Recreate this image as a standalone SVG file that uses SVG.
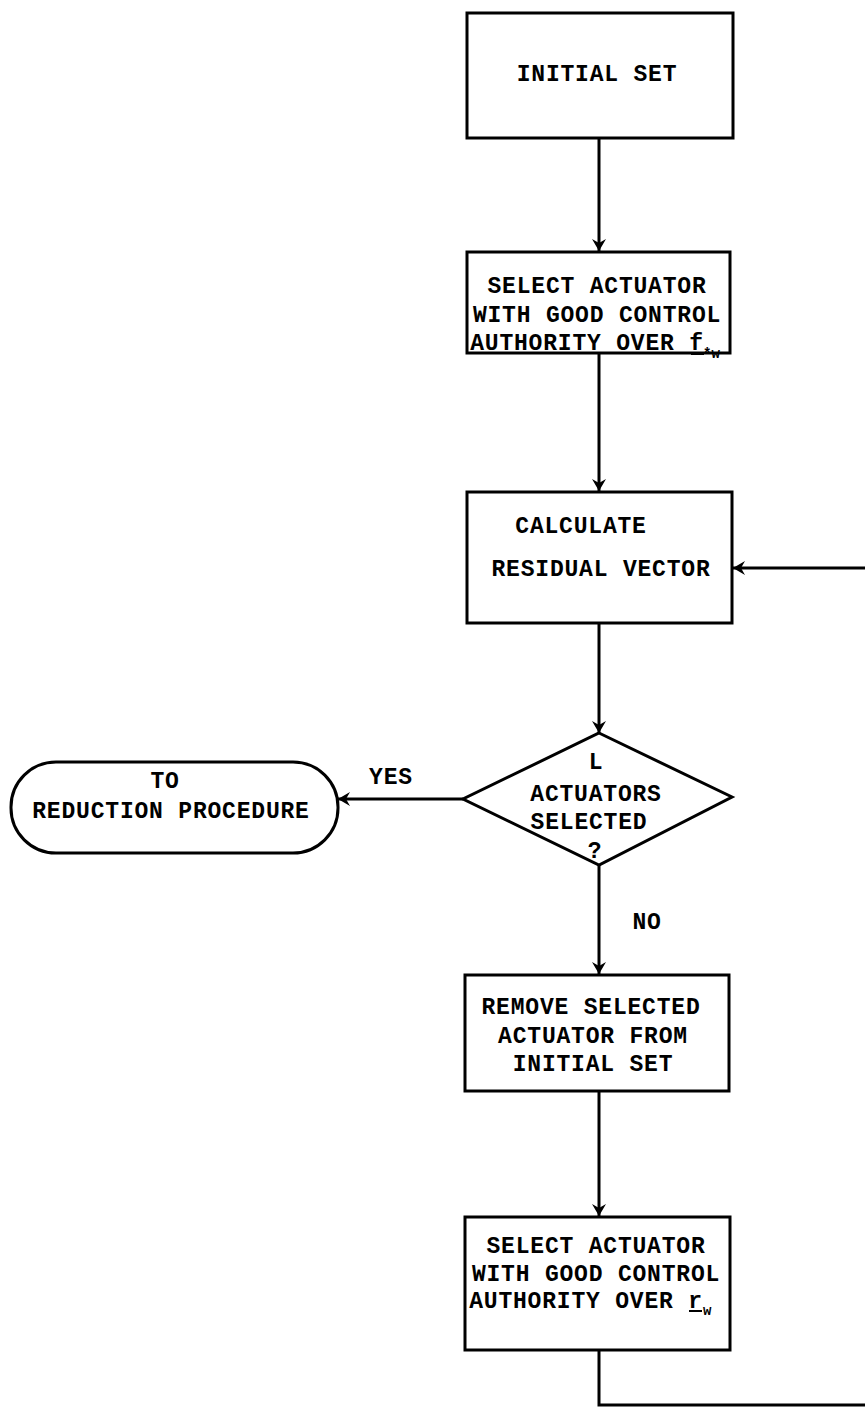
<svg xmlns="http://www.w3.org/2000/svg" width="865" height="1408" viewBox="0 0 865 1408">
<style>
.box{fill:#fff;stroke:#000;stroke-width:3}
.t{font-family:"Liberation Mono","Courier New",monospace;font-size:23px;letter-spacing:0.8px;fill:#000;text-anchor:middle;font-weight:bold}
.s{font-family:"Liberation Mono","Courier New",monospace;font-size:14px;fill:#000;font-weight:bold}
.c{fill:none;stroke:#000;stroke-width:3}
</style>
<defs>
<marker id="ah" viewBox="0 0 12 16" refX="12" refY="8" markerWidth="12" markerHeight="16" markerUnits="userSpaceOnUse" orient="auto">
<path d="M0,1 L12,8 L0,15 L4,8 Z" fill="#000"/>
</marker>
</defs>
<g id="connectors">
<path class="c" d="M599,138 V251" marker-end="url(#ah)"/>
<path class="c" d="M599,353 V491" marker-end="url(#ah)"/>
<path class="c" d="M599,623 V733" marker-end="url(#ah)"/>
<path class="c" d="M463,799 H338" marker-end="url(#ah)"/>
<path class="c" d="M599,865 V974" marker-end="url(#ah)"/>
<path class="c" d="M599,1091 V1216" marker-end="url(#ah)"/>
<path class="c" d="M599,1350 V1405 H868 V568 H733" marker-end="url(#ah)"/>
<text class="t" x="391" y="784">YES</text>
<text class="t" x="647" y="929">NO</text>
</g>
<g id="initial-set">
<rect class="box" x="467" y="13" width="266" height="125"/>
<text class="t" x="597" y="81">INITIAL SET</text>
</g>
<g id="select-f">
<rect class="box" x="467" y="252" width="263" height="101"/>
<text class="t" x="597" y="293">SELECT ACTUATOR</text>
<text class="t" x="597" y="322">WITH GOOD CONTROL</text>
<text class="t" x="587" y="350">AUTHORITY OVER f</text>
<line x1="691" y1="354" x2="704" y2="354" stroke="#000" stroke-width="2"/>
<text class="s" x="703" y="358">*w</text>
</g>
<g id="calculate">
<rect class="box" x="467" y="492" width="265" height="131"/>
<text class="t" x="581" y="533">CALCULATE</text>
<text class="t" x="601" y="576">RESIDUAL VECTOR</text>
</g>
<g id="decision">
<polygon class="box" points="599,733 732,797 599,865 463,799"/>
<text class="t" x="596" y="769">L</text>
<text class="t" x="596" y="801">ACTUATORS</text>
<text class="t" x="589" y="829">SELECTED</text>
<text class="t" x="595" y="858">?</text>
</g>
<g id="reduction">
<rect class="box" x="11" y="762" width="327" height="91" rx="45" ry="45"/>
<text class="t" x="165" y="788">TO</text>
<text class="t" x="171" y="818">REDUCTION PROCEDURE</text>
</g>
<g id="remove">
<rect class="box" x="465" y="975" width="264" height="116"/>
<text class="t" x="591" y="1014">REMOVE SELECTED</text>
<text class="t" x="593" y="1043">ACTUATOR FROM</text>
<text class="t" x="593" y="1071">INITIAL SET</text>
</g>
<g id="select-r">
<rect class="box" x="465" y="1217" width="265" height="133"/>
<text class="t" x="596" y="1253">SELECT ACTUATOR</text>
<text class="t" x="596" y="1281">WITH GOOD CONTROL</text>
<text class="t" x="586" y="1308">AUTHORITY OVER r</text>
<line x1="689" y1="1311" x2="702" y2="1311" stroke="#000" stroke-width="2"/>
<text class="s" x="703" y="1315">w</text>
</g>
</svg>
